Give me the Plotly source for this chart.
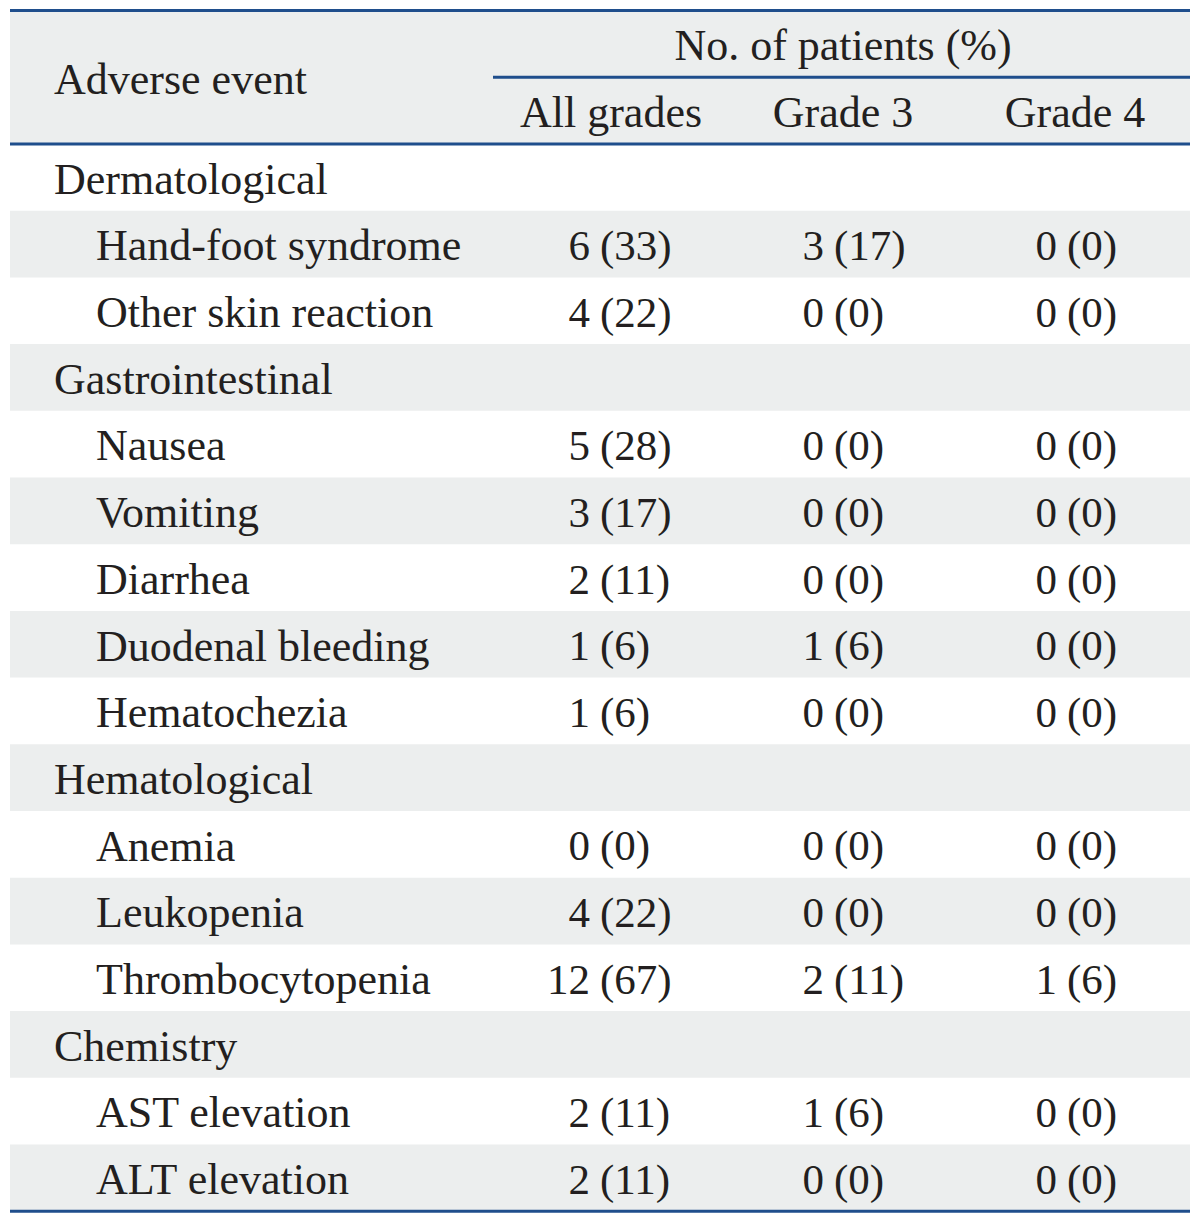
import plotly.graph_objects as go

# ---------------- data ----------------
labels = ["Dermatological", "Hand-foot syndrome", "Other skin reaction",
          "Gastrointestinal", "Nausea", "Vomiting", "Diarrhea",
          "Duodenal bleeding", "Hematochezia", "Hematological", "Anemia",
          "Leukopenia", "Thrombocytopenia", "Chemistry", "AST elevation",
          "ALT elevation"]
is_group = [1, 0, 0, 1, 0, 0, 0, 0, 0, 1, 0, 0, 0, 1, 0, 0]
all_n = [None, 6, 4, None, 5, 3, 2, 1, 1, None, 0, 4, 12, None, 2, 2]
all_p = [None, 33, 22, None, 28, 17, 11, 6, 6, None, 0, 22, 67, None, 11, 11]
g3_n = [None, 3, 0, None, 0, 0, 0, 1, 0, None, 0, 0, 2, None, 1, 0]
g3_p = [None, 17, 0, None, 0, 0, 0, 6, 0, None, 0, 0, 11, None, 6, 0]
g4_n = [None, 0, 0, None, 0, 0, 0, 0, 0, None, 0, 0, 1, None, 0, 0]
g4_p = [None, 0, 0, None, 0, 0, 0, 0, 0, None, 0, 0, 6, None, 0, 0]
col_headers = ["All grades", "Grade 3", "Grade 4"]
span_header = "No. of patients (%)"
first_header = "Adverse event"

# ---------------- style ----------------
FONT = "Liberation Serif"
FS_TXT = 44
FS_NUM = 43
TXT = "#231F20"
LINE = "#1F4E8C"
STRIPE = "#ECEEEE"
X_LEFT, X_RIGHT = 10, 1190
X_SPAN = 493
X_GROUP, X_ITEM = 54, 96
COL_SPLIT = [600, 834, 1067]    # where "(" of each value starts
NUM_GAP = 10
COL_CENTER = [611, 843, 1075]
TEXT_DY = 0.08                  # text sits slightly below row centre
N = len(labels)

fig = go.Figure()

shapes = []
# header background
shapes.append(dict(type="rect", xref="x", yref="y", x0=X_LEFT, x1=X_RIGHT,
                   y0=-2.5, y1=-0.5, fillcolor=STRIPE, line_width=0, layer="below"))
# row stripes
for i in range(N):
    if i % 2 == 1:
        shapes.append(dict(type="rect", xref="x", yref="y", x0=X_LEFT, x1=X_RIGHT,
                           y0=i - 0.5, y1=i + 0.5, fillcolor=STRIPE,
                           line_width=0, layer="below"))
# rules
for (x0, y) in [(X_LEFT, -2.5), (X_SPAN, -1.5), (X_LEFT, -0.5), (X_LEFT, N - 0.5)]:
    shapes.append(dict(type="line", xref="x", yref="y", x0=x0, x1=X_RIGHT,
                       y0=y, y1=y, line=dict(color=LINE, width=3)))

font_t = dict(family=FONT, size=FS_TXT, color=TXT)
font_n = dict(family=FONT, size=FS_NUM, color=TXT)

# row labels
fig.add_trace(go.Scatter(
    x=[X_GROUP if g else X_ITEM for g in is_group],
    y=[i + TEXT_DY for i in range(N)],
    text=labels, mode="text", textposition="middle right",
    textfont=font_t, hoverinfo="skip", showlegend=False))

# values: number right of split, "(pct)" left of split
for k, (ns, ps) in enumerate([(all_n, all_p), (g3_n, g3_p), (g4_n, g4_p)]):
    ys = [i for i in range(N) if ns[i] is not None]
    fig.add_trace(go.Scatter(
        x=[COL_SPLIT[k] - NUM_GAP] * len(ys), y=[i + TEXT_DY for i in ys],
        text=[f"{ns[i]}" for i in ys], mode="text", textposition="middle left",
        textfont=font_n, hoverinfo="skip", showlegend=False))
    fig.add_trace(go.Scatter(
        x=[COL_SPLIT[k]] * len(ys), y=[i + TEXT_DY for i in ys],
        text=[f"({ps[i]})" for i in ys], mode="text", textposition="middle right",
        textfont=font_n, hoverinfo="skip", showlegend=False))

# headers
fig.add_trace(go.Scatter(
    x=COL_CENTER, y=[-1 + TEXT_DY] * 3, text=col_headers, mode="text",
    textposition="middle center", textfont=font_t, hoverinfo="skip", showlegend=False))
fig.add_trace(go.Scatter(
    x=[COL_CENTER[1]], y=[-2 + TEXT_DY], text=[span_header], mode="text",
    textposition="middle center", textfont=font_t, hoverinfo="skip", showlegend=False))
fig.add_trace(go.Scatter(
    x=[X_GROUP], y=[-1.5 + TEXT_DY], text=[first_header], mode="text",
    textposition="middle right", textfont=font_t, hoverinfo="skip", showlegend=False))

# page geometry (the page body has an 8px margin)
PAGE_OFF = 8
W, H = 1200, 1225
ROW_PX = 66.7
TOP_PX = 144
y_top = -0.5 - (TOP_PX - PAGE_OFF) / ROW_PX
y_bot = -0.5 + (H - TOP_PX) / ROW_PX

fig.update_layout(
    width=W - PAGE_OFF, height=H - PAGE_OFF, margin=dict(l=0, r=0, t=0, b=0),
    paper_bgcolor="white", plot_bgcolor="white", shapes=shapes,
    xaxis=dict(range=[PAGE_OFF, W], visible=False, fixedrange=True),
    yaxis=dict(range=[y_bot, y_top], visible=False, fixedrange=True),
)

fig.write_html("out.html")
